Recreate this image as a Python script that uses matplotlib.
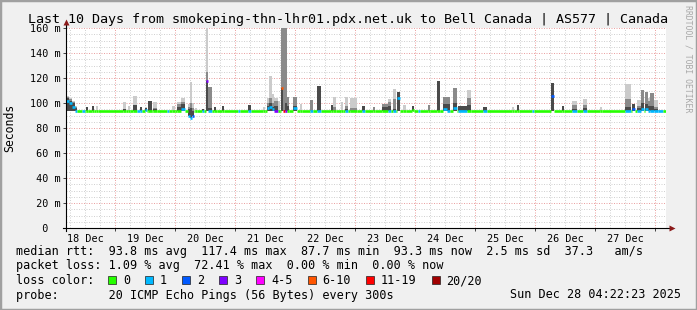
import datetime as dt

import matplotlib
matplotlib.use("Agg")
import matplotlib.pyplot as plt
import matplotlib.dates as mdates
from matplotlib.ticker import MultipleLocator, FuncFormatter, NullFormatter
from matplotlib.patches import Rectangle
import numpy as np

MONO = "DejaVu Sans Mono"
plt.rcParams["font.family"] = MONO

# ---- values --------------------------------------------------------------
title = "Last 10 Days from smokeping-thn-lhr01.pdx.net.uk to Bell Canada | AS577 | Canada"
start = dt.datetime(2025, 12, 18, 4, 22, 23)
span_days = 10
base_median = 93.3  # ms, the quiet green line

# disturbances: hours since start, length (h), median (ms), loss bucket,
# top of dark / mid / light smoke (ms)
ev_hour = [0.0, 1.2, 2.4, 3.6, 6.4, 8.0, 10.4, 12.0,
           22.8, 24.8, 26.8, 28.4, 29.6, 31.6, 32.8, 34.8, 40.4, 42.4,
           44.4, 46.0, 48.8, 49.6, 50.4, 51.6, 54.4, 56.0, 56.8, 59.0, 62.4,
           68.8, 72.8, 78.8, 80.4, 81.2, 82.4, 83.2, 84.8, 86.0, 86.8, 87.6, 88.4, 90.8,
           93.6, 97.6, 100.4, 106.0, 106.8, 110.0, 111.6, 113.6,
           118.4, 122.8, 126.4, 128.8, 130.8, 132.4, 134.8, 138.4,
           140.8, 144.8, 148.4, 150.8, 152.4, 154.8, 156.8, 160.4,
           166.8, 178.4, 180.4, 186.4,
           194.0, 198.4, 202.4, 206.8,
           213.6, 223.6, 226.4, 228.4, 230.0, 231.6, 232.8, 233.6, 235.2, 236.8]
ev_len = [1.2, 1.2, 1.2, 0.8, 1.2, 0.8, 0.8, 0.8,
          1.2, 0.8, 1.6, 1.2, 0.8, 0.8, 1.6, 1.6, 0.8, 1.2,
          1.6, 1.6, 0.8, 0.8, 0.8, 0.8, 0.8, 0.8, 1.6, 1.2, 0.8,
          0.8, 1.2, 0.8, 0.8, 1.2, 0.8, 1.6, 0.8, 0.8, 0.8, 0.8, 0.8, 1.6,
          0.8, 1.2, 1.6, 0.8, 1.2, 0.8, 1.2, 2.8,
          1.2, 0.8, 2.4, 1.2, 1.2, 1.2, 1.2, 0.8,
          0.8, 0.8, 1.2, 1.6, 1.2, 1.6, 3.6, 1.6,
          1.6, 0.8, 0.8, 0.8,
          1.2, 0.8, 2.0, 1.6,
          0.8, 2.4, 1.2, 1.6, 1.2, 1.2, 0.8, 1.6, 1.6, 2.0]
ev_median = [102.0, 100.0, 97.0, 94.0, 93.3, 93.3, 93.3, 93.3,
             93.3, 93.3, 93.3, 93.3, 93.3, 94.5, 93.3, 93.3, 93.3, 93.3,
             94.0, 95.0, 90.0, 88.0, 90.0, 93.3, 94.0, 117.8, 93.3, 93.3, 93.3,
             93.3, 93.5, 93.3, 96.0, 97.0, 95.0, 93.3, 93.3, 111.7, 93.3, 93.3, 93.3, 96.0,
             93.3, 93.3, 93.3, 93.3, 93.3, 93.3, 94.0, 93.3,
             93.3, 93.3, 93.3, 93.3, 93.3, 103.7, 93.3, 94.5,
             93.3, 93.3, 93.3, 95.0, 94.0, 96.0, 94.0, 93.3,
             93.3, 93.3, 93.3, 93.3,
             105.6, 93.3, 93.3, 93.3,
             93.3, 94.0, 95.0, 94.0, 95.0, 95.0, 93.3, 93.3, 93.3, 93.3]
ev_loss = [1, 1, 1, 1, 1, 0, 0, 0,
           0, 0, 0, 1, 1, 1, 0, 0, 1, 0,
           0, 1, 1, 1, 2, 0, 1, 3, 1, 0, 0,
           1, 1, 0, 1, 1, 1, 3, 0, 5, 6, 3, 0, 1,
           0, 1, 1, 0, 0, 0, 1, 0,
           1, 0, 0, 1, 1, 1, 0, 0,
           1, 0, 0, 1, 1, 1, 1, 0,
           1, 0, 0, 1,
           2, 0, 1, 1,
           0, 1, 2, 1, 1, 1, 1, 1, 1, 1]
ev_dark = [104.0, 102.0, 100.0, 96.0, 93.3, 96.5, 97.6, 93.3,
           95.0, 93.3, 98.4, 93.3, 96.5, 96.0, 101.9, 95.0, 93.3, 94.0,
           97.0, 99.0, 95.0, 96.0, 94.0, 93.3, 95.0, 117.8, 96.0, 97.0, 97.6,
           93.3, 98.4, 93.3, 98.0, 100.0, 97.0, 98.0, 93.3, 111.7, 93.3, 100.0, 98.0, 98.0,
           93.3, 93.3, 113.6, 98.4, 94.0, 93.3, 95.0, 94.0,
           97.6, 93.3, 97.0, 98.0, 95.0, 109.0, 93.3, 97.6,
           93.3, 93.3, 117.6, 99.0, 99.0, 100.0, 97.6, 98.4,
           96.5, 93.3, 98.4, 93.3,
           115.7, 97.6, 95.0, 96.0,
           93.3, 97.0, 99.2, 96.0, 100.0, 99.0, 98.0, 98.0, 95.0, 93.3]
ev_mid = [105.0, 103.0, 101.0, 97.0, 93.3, 96.5, 97.6, 93.3,
          95.0, 94.0, 98.4, 93.3, 96.5, 96.0, 101.9, 96.0, 93.3, 94.0,
          99.0, 101.0, 97.0, 100.0, 96.0, 94.0, 95.0, 125.0, 113.0, 97.0, 97.6,
          93.3, 98.4, 93.3, 100.0, 104.0, 100.0, 102.0, 93.3, 165.0, 165.0, 165.0, 105.0, 104.8,
          93.3, 102.4, 113.6, 98.4, 97.0, 93.3, 98.0, 96.0,
          97.6, 96.5, 99.0, 101.0, 103.0, 109.0, 93.3, 97.6,
          93.3, 98.4, 117.6, 104.7, 105.0, 111.7, 97.6, 104.0,
          96.5, 93.3, 98.4, 93.3,
          115.7, 97.6, 98.4, 98.4,
          93.3, 103.2, 99.2, 98.0, 110.4, 108.5, 102.0, 107.7, 97.0, 93.3]
ev_max = [106.0, 104.0, 102.0, 98.0, 93.3, 96.5, 97.6, 98.0,
          100.8, 98.0, 106.0, 93.3, 97.0, 97.0, 101.9, 101.0, 93.3, 97.6,
          101.0, 103.7, 99.0, 117.0, 100.0, 96.0, 95.0, 162.0, 113.0, 97.0, 97.6,
          93.3, 98.4, 97.0, 104.0, 122.0, 107.0, 104.0, 102.0, 165.0, 165.0, 165.0, 105.0, 104.8,
          99.0, 102.4, 113.6, 98.4, 104.5, 101.0, 105.0, 104.0,
          97.6, 96.5, 99.0, 103.0, 111.0, 109.0, 98.4, 97.6,
          93.3, 98.4, 117.6, 104.7, 105.0, 111.7, 97.6, 110.4,
          96.5, 96.5, 98.4, 93.3,
          115.7, 97.6, 101.6, 103.2,
          96.5, 115.2, 99.2, 102.4, 110.4, 108.5, 104.0, 107.7, 102.4, 94.5]

loss_labels = ["0", "1", "2", "3", "4-5", "6-10", "11-19", "20/20"]
loss_colors = ["#26ff00", "#00b8ff", "#0059ff", "#7e00ff",
               "#ff00ff", "#ff5500", "#ff0000", "#a10000"]

rtt_line = "median rtt:  93.8 ms avg  117.4 ms max  87.7 ms min  93.3 ms now  2.5 ms sd  37.3   am/s"
loss_line = "packet loss: 1.09 % avg  72.41 % max  0.00 % min  0.00 % now"
probe_line = "probe:       20 ICMP Echo Pings (56 Bytes) every 300s"
stamp = "Sun Dec 28 04:22:23 2025"

# ---- layout (pixels of the 697x310 image) --------------------------------
W, H = 697, 310
BG = "#f0f0f0"
fig = plt.figure(figsize=(W / 100, H / 100), dpi=100, facecolor=BG)


def fx(px):
    return px / W


def fy(py):
    return 1 - py / H


ax = fig.add_axes([fx(66), fy(228), 600 / W, 200 / H])
ax.set_facecolor("white")
for s in ax.spines.values():
    s.set_visible(False)

t0 = mdates.date2num(start)
xs = t0 + np.array(ev_hour) / 24
widths = np.array(ev_len) / 24
med = np.array(ev_median)
bottom = np.minimum(med, base_median)

# smoke, light to dark
for tops, col in ((ev_max, "#cbcbcb"), (ev_mid, "#8a8a8a"), (ev_dark, "#4a4a4a")):
    tops = np.array(tops)
    keep = tops > bottom + 0.05
    ax.bar(xs[keep], tops[keep] - bottom[keep], bottom=bottom[keep],
           width=widths[keep], align="edge", color=col, linewidth=0, zorder=2)

# median line, coloured by loss; quiet stretches stay green
segs = []
cur = 0.0
for h, ln, m, ls in zip(ev_hour, ev_len, ev_median, ev_loss):
    if h > cur:
        segs.append((cur, h, base_median, 0))
    segs.append((h, h + ln, m, ls))
    cur = h + ln
if cur < span_days * 24:
    segs.append((cur, span_days * 24, base_median, 0))

for a, b, m, ls in segs:
    ax.hlines(m, t0 + a / 24, t0 + b / 24, color=loss_colors[ls], lw=1.9, zorder=4)

ax.set_xlim(t0, t0 + span_days)
ax.set_ylim(0, 160)

# grid
red = "#eba3a3"
grey = "#d2d2d2"
dots = (0, (1, 1.5))
ax.xaxis_date()
ax.xaxis.set_major_locator(mdates.DayLocator())
ax.xaxis.set_major_formatter(NullFormatter())
ax.xaxis.set_minor_locator(mdates.HourLocator(byhour=[6, 12, 18]))
ax.xaxis.set_minor_formatter(FuncFormatter(
    lambda v, p: mdates.num2date(v).strftime("%d %b") if mdates.num2date(v).hour == 12 else ""))
ax.yaxis.set_minor_locator(MultipleLocator(5))
y_major = np.arange(0, 161, 20)
ax.set_yticks(y_major)
ax.set_yticklabels([f"{v:3.0f} m" if v else "  0" for v in y_major],
                   ha="left", fontsize=7.3, family=MONO)
ax.grid(which="major", color=red, lw=0.72, ls=dots, zorder=0)
ax.grid(which="minor", color=grey, lw=0.72, ls=dots, zorder=0)
ax.set_axisbelow(True)
ax.tick_params(axis="y", which="major", length=2, width=0.7, color="#404040", pad=24.2)
ax.tick_params(axis="y", which="minor", length=0)
ax.tick_params(axis="x", which="major", length=2, width=0.7, color="#404040")
ax.tick_params(axis="x", which="minor", length=0, pad=4.2, labelsize=7.3)

# axis lines with arrows
kw = dict(transform=ax.transAxes, clip_on=False, zorder=6)
ax.plot([-0.005, 1.008], [0, 0], color="black", lw=0.8, **kw)
ax.plot([0, 0], [-0.015, 1.02], color="black", lw=0.8, **kw)
ax.plot([1.01], [0], marker=">", ms=4.5, color="#8b1a1a", mec="none", **kw)
ax.plot([0], [1.03], marker="^", ms=4.5, color="#8b1a1a", mec="none", **kw)

# texts
fig.text(0.5, fy(22.5), title, ha="center", va="baseline", fontsize=9.6)
fig.text(fx(10), fy(128), "Seconds", rotation=90, ha="center", va="center", fontsize=8.3)
fig.text(fx(688), fy(59), "RRDTOOL / TOBI OETIKER", rotation=270, ha="center",
         va="center", fontsize=5.9, color="#a8a8a8")

fs = 8.5
char_w = 7.1
fig.text(fx(16), fy(255), rtt_line, fontsize=fs, va="baseline")
fig.text(fx(16), fy(269.5), loss_line, fontsize=fs, va="baseline")
fig.text(fx(16), fy(284), "loss color:", fontsize=fs, va="baseline")
cursor = 108
for lab, col in zip(loss_labels, loss_colors):
    fig.patches.append(Rectangle((fx(cursor), fy(284)), 8 / W, 8 / H,
                                 transform=fig.transFigure, facecolor=col,
                                 edgecolor="#202020", lw=0.5))
    fig.text(fx(cursor + 15), fy(284), lab, fontsize=fs, va="baseline")
    cursor += 15 + len(lab) * char_w + 15
fig.text(fx(16), fy(298.5), probe_line, fontsize=fs, va="baseline")
fig.text(fx(681), fy(298.5), stamp, fontsize=fs, va="baseline", ha="right")

# image frame
fig.patches.append(Rectangle((0, 0), 1, 1, transform=fig.transFigure, fill=False,
                             edgecolor="#a0a0a0", lw=2.5))

fig.savefig("out.png", dpi=100, facecolor=BG)
